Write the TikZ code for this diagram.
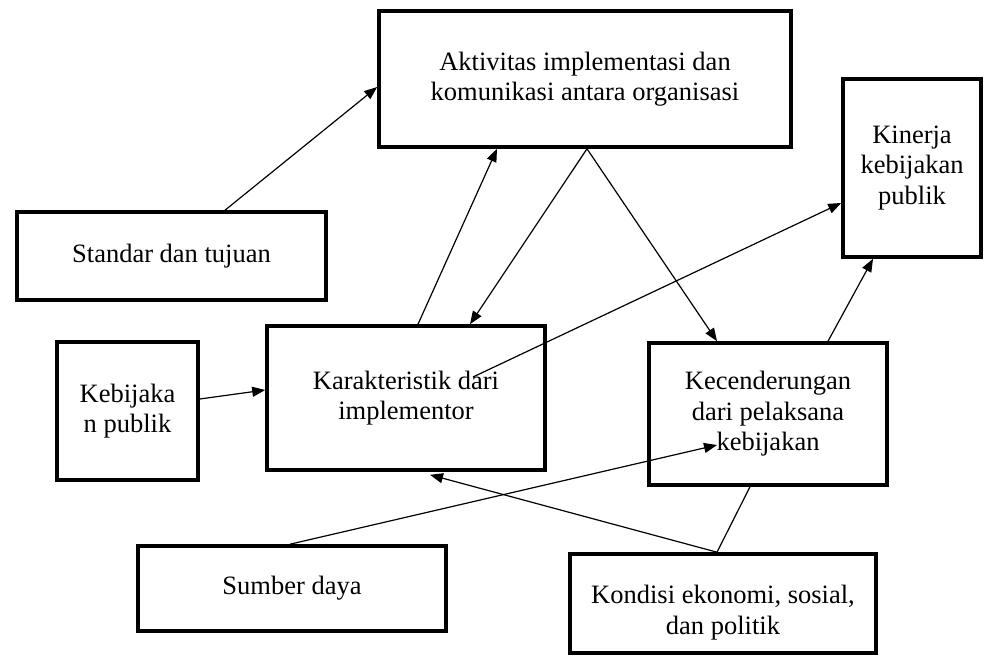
\documentclass[tikz,border=0pt]{standalone}
\usepackage{fontspec}
\setmainfont{Liberation Serif}
\usetikzlibrary{arrows.meta}
\begin{document}
\begin{tikzpicture}[x=1pt,y=-1pt,
  box/.style={draw, line width=3.6pt, inner sep=0pt, align=center,
    font=\fontsize{26.5}{30.5}\selectfont},
  conn/.style={line width=1.2pt},
  arr/.style={conn, -{Triangle[length=13pt,width=10pt]}}]
\useasboundingbox (0,0) rectangle (986,663);
\node[box, minimum width=412pt, minimum height=136pt] (akt) at (585,79) {Aktivitas implementasi dan\\komunikasi antara organisasi};
\node[box, minimum width=138pt, minimum height=178pt] (kin) at (912,168) {Kinerja\\kebijakan\\publik};
\node[box, minimum width=309pt, minimum height=88pt] (std) at (171.5,256) {Standar dan tujuan};
\node[box, minimum width=141pt, minimum height=138pt] (keb) at (127.5,411) {Kebijaka\\n publik};
\node[box, minimum width=278pt, minimum height=144pt] (kar) at (406,398) {Karakteristik dari\\implementor};
\node[box, minimum width=238pt, minimum height=142pt] (kec) at (768,414) {Kecenderungan\\dari pelaksana\\kebijakan};
\node[box, minimum width=308pt, minimum height=85pt] (sum) at (292,588.5) {Sumber daya};
\node[box, minimum width=306pt, minimum height=99pt, text height=68pt, text depth=7pt] (kon) at (723,603.5) {Kondisi ekonomi, sosial,\\dan politik};

\draw[arr] ([xshift=53.5pt]std.north) -- ([yshift=-8pt]akt.west);
\draw[arr] ([xshift=12pt]kar.north) -- ([xshift=-88pt]akt.south);
\draw[arr] ([xshift=2pt]akt.south) -- ([xshift=64pt]kar.north);
\draw[arr] ([xshift=2pt]akt.south) -- ([xshift=-51pt]kec.north);
\draw[arr] ([xshift=67pt,yshift=21pt]kar.center) -- ([yshift=-35pt]kin.west);
\draw[arr] ([xshift=60pt]kec.north) -- ([xshift=-39pt]kin.south);
\draw[arr] ([yshift=12pt]keb.east) -- ([yshift=8pt]kar.west);
\draw[arr] ([xshift=-2pt]sum.north) -- ([xshift=-51pt,yshift=-31pt]kec.center);
\draw[arr] ([xshift=-6pt]kon.north) -- ([xshift=24pt,yshift=-3pt]kar.south);
\draw[conn] ([xshift=-6pt]kon.north) -- ([xshift=-18pt]kec.south);
\end{tikzpicture}
\end{document}
